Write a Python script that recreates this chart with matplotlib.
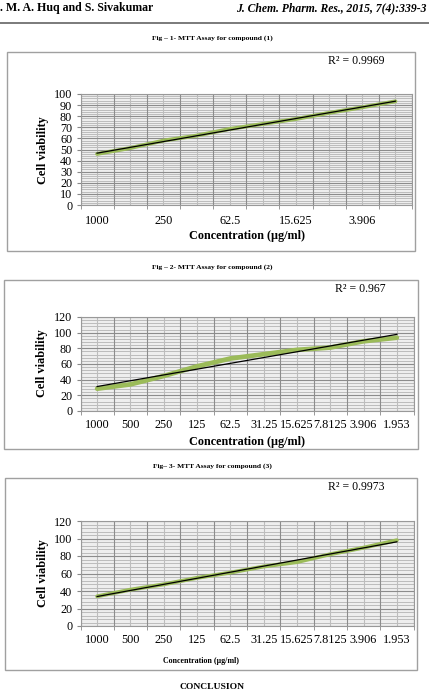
import numpy as np
import matplotlib
matplotlib.use("Agg")
import matplotlib.pyplot as plt
from matplotlib.patches import Rectangle
from matplotlib.lines import Line2D

# ---------------- data ----------------
conc_labels = ['1000', '500', '250', '125', '62.5', '31.25', '15.625', '7.8125', '3.906', '1.953']
viability_1 = [46, 51.3, 58, 62.5, 68.5, 73, 77.5, 83, 88, 93.4]
viability_2 = [28.5, 34, 44.7, 57, 67, 72.5, 78, 81, 89, 93.6]
viability_3 = [33.9, 41.5, 47.6, 55, 61, 68, 73, 82, 89.5, 98]
r2_labels = ['R² = 0.9969', 'R² = 0.967', 'R² = 0.9973']
captions = ['Fig – 1- MTT Assay for compound (1)',
            'Fig – 2- MTT Assay for compound (2)',
            'Fig– 3- MTT Assay for compound (3)']

W, H = 429, 694
SERIF = 'Liberation Serif'
GREEN = '#9BBB59'

fig = plt.figure(figsize=(W / 100, H / 100), dpi=100)


def fx(x):
    return x / W


def fy(y):
    return 1 - y / H


def ftext(x, y, s, **kw):
    kw.setdefault('family', SERIF)
    fig.text(fx(x), fy(y), s, **kw)


def box(x0, y0, x1, y1):
    fig.add_artist(Rectangle((fx(x0), fy(y1)), (x1 - x0) / W, (y1 - y0) / H,
                             transform=fig.transFigure, fill=False,
                             edgecolor='#a0a0a0', linewidth=1.0))


# header
ftext(0, 8, '. M. A. Huq and S. Sivakumar', fontsize=8.6, fontweight='bold',
      ha='left', va='center')
ftext(427, 8, 'J. Chem. Pharm. Res., 2015, 7(4):339-3', fontsize=8.4,
      fontweight='bold', style='italic', ha='right', va='center')
fig.add_artist(Line2D([0, 1], [fy(22.5), fy(22.5)], transform=fig.transFigure,
                      color='#707070', linewidth=1.3))


def chart(values, ymax, ystep, ax_box, tick_idx, tick_pad, lw_green):
    left, top, right, bottom = ax_box
    ax = fig.add_axes([fx(left), fy(bottom), (right - left) / W, (bottom - top) / H])
    n = len(values)
    x = np.arange(n)
    ax.set_xlim(-0.5, n - 0.5)
    ax.set_ylim(0, ymax)
    ax.set_facecolor('#eeeeee')
    # horizontal grid
    minor_step = ystep / 5
    for yv in np.arange(0, ymax + 1e-9, minor_step):
        ax.axhline(yv, color='#b4b4b4', linewidth=0.6, zorder=0.5)
    for yv in np.arange(0, ymax + 1e-9, ystep):
        ax.axhline(yv, color='#8c8c8c', linewidth=0.8, zorder=0.6)
    # vertical grid
    for xv in np.arange(-0.5, n, 1.0):
        ax.axvline(xv, color='#8c8c8c', linewidth=0.8, zorder=0.6)
    for xv in x:
        ax.axvline(xv, color='#bdbdbd', linewidth=0.8, zorder=0.5)
    # series and trendline
    ax.plot(x, values, color=GREEN, linewidth=lw_green, solid_capstyle='round', zorder=3)
    xe = x + 1
    k, b = np.polyfit(xe, values, 1)
    ax.plot(x, k * xe + b, color='black', linewidth=0.9, zorder=4)
    # ticks
    ax.set_yticks(np.arange(0, ymax + 1e-9, ystep))
    ax.set_yticklabels([str(int(v)) for v in np.arange(0, ymax + 1e-9, ystep)])
    ax.set_xticks(tick_idx)
    ax.set_xticklabels([conc_labels[i] for i in tick_idx])
    ax.set_xticks(np.arange(-0.5, n, 1.0), minor=True)
    ax.tick_params(axis='y', length=3, color='#888888', labelsize=8.7, pad=3)
    ax.tick_params(axis='x', which='major', length=0, labelsize=8.8, pad=tick_pad)
    ax.tick_params(axis='x', which='minor', length=3, color='#888888')
    for lab in ax.get_xticklabels() + ax.get_yticklabels():
        lab.set_family(SERIF)
    for s in ax.spines.values():
        s.set_color('#999999')
        s.set_linewidth(0.8)
    return ax


# ---- chart 1 ----
ftext(212, 38, captions[0], fontsize=5.4, fontweight='bold', ha='center', va='center')
box(7, 52, 415, 251)
chart(viability_1, 100, 10, (80.5, 94, 412, 205), [0, 2, 4, 6, 8], 7, 2.8)
ftext(328, 61, r2_labels[0], fontsize=8.5, ha='left', va='center')
ftext(43, 150, 'Cell viability', fontsize=8.8, fontweight='bold', rotation=90,
      ha='center', va='center')
ftext(247, 236, 'Concentration (µg/ml)', fontsize=8.7, fontweight='bold',
      ha='center', va='center')

# ---- chart 2 ----
ftext(212, 267, captions[1], fontsize=5.4, fontweight='bold', ha='center', va='center')
box(4, 280, 418, 449)
chart(viability_2, 120, 20, (80.5, 317, 413.5, 411), list(range(10)), 5.5, 3.4)
ftext(335, 289, r2_labels[1], fontsize=8.5, ha='left', va='center')
ftext(42, 363, 'Cell viability', fontsize=8.8, fontweight='bold', rotation=90,
      ha='center', va='center')
ftext(247, 442, 'Concentration (µg/ml)', fontsize=8.7, fontweight='bold',
      ha='center', va='center')

# ---- chart 3 ----
ftext(212, 466, captions[2], fontsize=5.4, fontweight='bold', ha='center', va='center')
box(5, 478, 417, 670)
chart(viability_3, 120, 20, (80.5, 521, 413.5, 626), list(range(10)), 6, 2.8)
ftext(328, 487, r2_labels[2], fontsize=8.5, ha='left', va='center')
ftext(43, 573, 'Cell viability', fontsize=8.8, fontweight='bold', rotation=90,
      ha='center', va='center')
ftext(201, 661, 'Concentration (µg/ml)', fontsize=5.7, fontweight='bold',
      ha='center', va='center')

ftext(212, 687, 'CONCLUSION', fontsize=6.8, fontweight='bold', ha='center', va='center')

fig.savefig('out.png', dpi=100)
